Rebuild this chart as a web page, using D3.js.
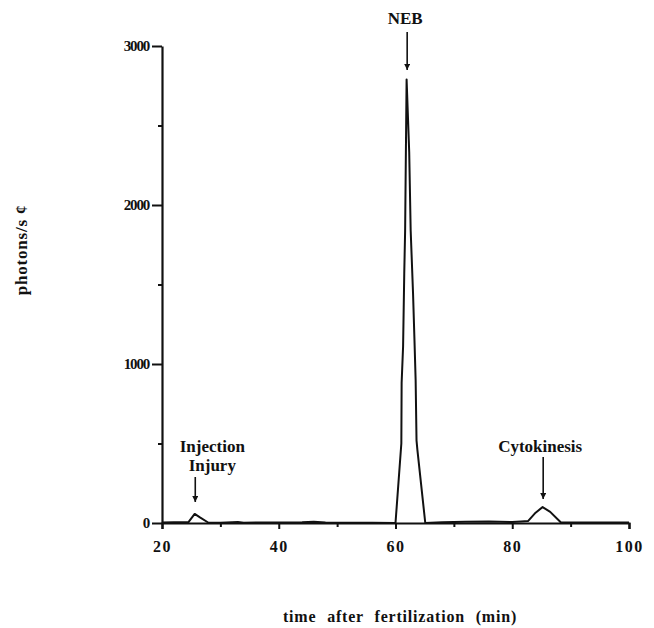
<!DOCTYPE html>
<html>
<head>
<meta charset="utf-8">
<script src="https://cdn.jsdelivr.net/npm/d3@7"></script>
<style>
  body { margin: 0; background: #fff; }
  svg text { font-family: "Liberation Serif", "Times New Roman", serif; font-weight: bold; fill: #111; }
</style>
</head>
<body>
<script>
// trace: time (min) and photons/s
var times = [20, 22, 24.5, 25.6, 26.5, 27.9, 30, 33, 34, 38, 44, 46, 48, 52, 56, 60,
             61.0, 61.05, 61.3, 61.5, 61.65, 61.9, 62.35, 62.6, 63.0, 63.25, 63.45, 63.6, 63.75, 65.1,
             68, 72, 76, 80, 81.5, 82.7, 84, 85.2, 86.5, 88.3, 90, 95, 100];
var photons = [3, 4, 4, 57, 35, 3, 2, 6, 2, 3, 4, 8, 3, 2, 2, 0,
               500, 880, 1110, 1570, 1840, 2790, 2330, 1840, 1450, 1150, 900, 520, 460, 0,
               4, 8, 10, 6, 10, 12, 65, 100, 70, 5, 3, 3, 3];
var xTicks = [20, 40, 60, 80, 100];
var xMinor = [30, 50, 70, 90];
var yTicks = [0, 1000, 2000, 3000];
var yMinor = [500, 1500, 2500];
var notes = [
  { t: 62, lines: ["NEB"], dx: -2, base: 24, top: 32, bottom: 70 },
  { t: 25.7, lines: ["Injection", "Injury"], dx: 17, base: 471, top: 477, bottom: 502 },
  { t: 85.3, lines: ["Cytokinesis"], dx: -3, base: 452, top: 457, bottom: 499 }
];

var width = 654, height = 628;
var svg = d3.select("body").append("svg").attr("width", width).attr("height", height);

var x = d3.scaleLinear().domain([20, 100]).range([162, 629]);
var y = d3.scaleLinear().domain([0, 3000]).range([523, 46]);

// axes
var gx = svg.append("g").attr("transform", "translate(0," + y(0) + ")")
  .call(d3.axisBottom(x).tickValues(xTicks).tickSize(6).tickPadding(12).tickFormat(d3.format("d")));
svg.append("g").attr("transform", "translate(0," + y(0) + ")")
  .call(d3.axisBottom(x).tickValues(xMinor).tickSize(4).tickFormat(""))
  .select(".domain").remove();
var gy = svg.append("g").attr("transform", "translate(" + x(20) + ",0)")
  .call(d3.axisLeft(y).tickValues(yTicks).tickSize(10).tickPadding(3).tickSizeOuter(0)
    .tickFormat(d3.format("d")));
svg.append("g").attr("transform", "translate(" + x(20) + ",0)")
  .call(d3.axisLeft(y).tickValues(yMinor).tickSize(4).tickFormat(""))
  .select(".domain").remove();

svg.selectAll(".domain").attr("stroke", "#111").attr("stroke-width", 2.2);
svg.selectAll(".tick line").attr("stroke", "#111").attr("stroke-width", 2);
svg.selectAll(".tick text").attr("font-size", 16).attr("font-family", "Liberation Serif, serif")
  .attr("font-weight", "bold").attr("fill", "#111");
gx.selectAll(".tick text").attr("letter-spacing", 1.5);
gy.selectAll(".tick text").attr("letter-spacing", -1.2).attr("font-size", 15);

// trace
var line = d3.line().x(function (d, i) { return x(times[i]); }).y(function (d) { return y(d); });
svg.append("path").datum(photons)
  .attr("d", line)
  .attr("fill", "none")
  .attr("stroke", "#111")
  .attr("stroke-width", 2)
  .attr("stroke-linejoin", "round");

// annotations with arrows
svg.append("defs").append("marker")
  .attr("id", "head").attr("viewBox", "0 0 10 10").attr("refX", 10).attr("refY", 5)
  .attr("markerWidth", 6).attr("markerHeight", 6).attr("markerUnits", "userSpaceOnUse")
  .attr("orient", "auto")
  .append("path").attr("d", "M0,0 L10,5 L0,10 Z").attr("fill", "#111");

notes.forEach(function (n) {
  var cx = x(n.t);
  svg.append("line")
    .attr("x1", cx).attr("x2", cx).attr("y1", n.top).attr("y2", n.bottom)
    .attr("stroke", "#111").attr("stroke-width", 1.6)
    .attr("marker-end", "url(#head)");
  n.lines.forEach(function (s, i) {
    svg.append("text")
      .attr("x", cx + n.dx).attr("y", n.base - (n.lines.length - 1 - i) * 19)
      .attr("text-anchor", "middle").attr("font-size", 17)
      .text(s);
  });
});

// axis titles
svg.append("text")
  .attr("x", 400).attr("y", 622)
  .attr("text-anchor", "middle").attr("font-size", 16).attr("letter-spacing", 0.8)
  .attr("word-spacing", 6)
  .text("time after fertilization (min)");

svg.append("text")
  .attr("transform", "translate(27,250) rotate(-90)")
  .attr("text-anchor", "middle").attr("font-size", 17).attr("letter-spacing", 0.8)
  .text("photons/s \u00a2");
</script>
</body>
</html>
